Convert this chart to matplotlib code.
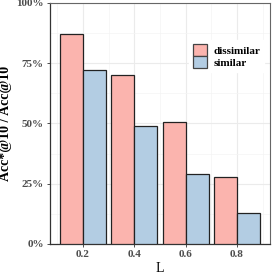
import numpy as np
import matplotlib
matplotlib.use("Agg")
import matplotlib.pyplot as plt
from matplotlib.ticker import FixedLocator

# values
L_values = [0.2, 0.4, 0.6, 0.8]
dissimilar = [87.0, 70.2, 50.6, 27.7]
similar = [72.0, 49.0, 29.2, 12.9]
y_ticks = [0, 25, 50, 75, 100]
y_tick_labels = ["0%", "25%", "50%", "75%", "100%"]

plt.rcParams["font.family"] = ["Liberation Serif", "DejaVu Serif"]

fig = plt.figure(figsize=(2.74, 2.74), dpi=100)
ax = fig.add_axes([0.1825, 0.1095, 0.803, 0.8796])

w = 0.09
x = np.array(L_values)
ax.bar(x - w / 2, dissimilar, width=w, color="#FBB4AE", edgecolor="#222222",
       linewidth=0.9, label="dissimilar", zorder=3)
ax.bar(x + w / 2, similar, width=w, color="#B3CDE3", edgecolor="#222222",
       linewidth=0.9, label="similar", zorder=3)

ax.set_xlim(0.0714, 0.9286)
ax.set_ylim(0, 100)
ax.set_xticks(L_values)
ax.set_xticklabels([f"{v:.1f}" for v in L_values])
ax.set_yticks(y_ticks)
ax.set_yticklabels(y_tick_labels)
ax.xaxis.set_minor_locator(FixedLocator([0.1, 0.3, 0.5, 0.7, 0.9]))
ax.yaxis.set_minor_locator(FixedLocator([12.5, 37.5, 62.5, 87.5]))

ax.grid(which="major", color="#EBEBEB", linewidth=0.8, zorder=0)
ax.grid(which="minor", color="#F4F4F4", linewidth=0.5, zorder=0)
ax.tick_params(which="minor", length=0)
ax.tick_params(which="major", length=2.5, width=0.6, color="#333333",
               labelsize=8, labelcolor="#4D4D4D", pad=2)
for lab in ax.get_xticklabels() + ax.get_yticklabels():
    lab.set_fontweight("bold")

for s in ["top", "right"]:
    ax.spines[s].set_color("#666666")
    ax.spines[s].set_linewidth(0.8)
for s in ["left", "bottom"]:
    ax.spines[s].set_color("#333333")
    ax.spines[s].set_linewidth(0.9)

ax.set_xlabel("L", fontsize=10, labelpad=2)
ax.set_ylabel("Acc*@10 / Acc@10", fontsize=10, fontweight="bold", labelpad=3)

leg = ax.legend(loc="upper right", bbox_to_anchor=(1.0, 0.87), frameon=True,
                fancybox=False, edgecolor="white", framealpha=1,
                prop={"size": 8, "weight": "bold"}, handlelength=1.3,
                handleheight=1.3, handletextpad=0.6, labelspacing=0.0,
                borderpad=0.35)
for h in leg.legend_handles:
    h.set_edgecolor("#444444")

fig.savefig("out.png", dpi=100)
